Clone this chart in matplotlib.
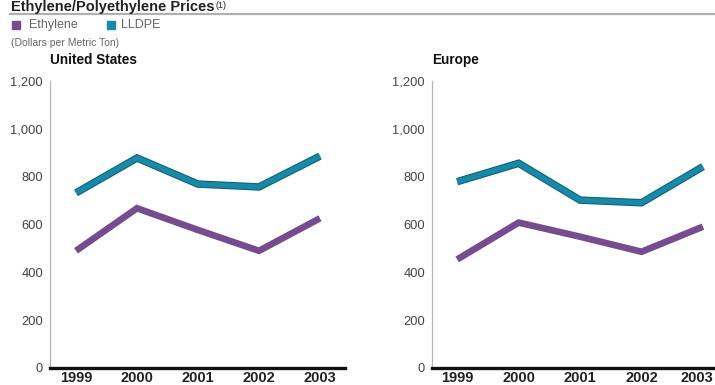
import matplotlib
matplotlib.use("Agg")
import matplotlib.pyplot as plt
from matplotlib.patches import Rectangle
from matplotlib.lines import Line2D

plt.rcParams['font.family'] = ['Liberation Sans', 'DejaVu Sans']

years = [1999, 2000, 2001, 2002, 2003]
year_labels = ["1999", "2000", "2001", "2002", "2003"]
us_ethylene = [490, 668, 577, 490, 626]
us_lldpe = [732, 878, 769, 757, 886]
eu_ethylene = [454, 608, 549, 486, 591]
eu_lldpe = [779, 856, 702, 691, 842]
yticks = [0, 200, 400, 600, 800, 1000, 1200]
ytick_labels = ["0", "200", "400", "600", "800", "1,000", "1,200"]

W, H = 715, 385
C_ETH = "#774b90"
C_LLD = "#1889a6"
C_LLD_EDGE = "#0f6479"

fig = plt.figure(figsize=(W / 100, H / 100), dpi=100)


def fx(px):
    return px / W


def fy(py):
    return 1 - py / H


def panel(left_px, right_px, xlim, name, eth, lld, keep_last_label=True):
    ax = fig.add_axes([fx(left_px), fy(368), fx(right_px - left_px), (368 - 81) / H])
    ax.set_xlim(*xlim)
    ax.set_ylim(0, 1200)
    ax.plot(years, lld, color=C_LLD_EDGE, lw=5.4, solid_joinstyle='miter', solid_capstyle='butt', zorder=3)
    ax.plot(years, lld, color=C_LLD, lw=3.8, solid_joinstyle='miter', solid_capstyle='butt', zorder=4)
    ax.plot(years, eth, color=C_ETH, lw=4.8, solid_joinstyle='miter', solid_capstyle='butt', zorder=3)
    for s in ("top", "right"):
        ax.spines[s].set_visible(False)
    ax.spines["left"].set_color("#b5b5b5")
    ax.spines["left"].set_linewidth(0.9)
    ax.spines["bottom"].set_color("#111111")
    ax.spines["bottom"].set_linewidth(2.4)
    ax.spines["bottom"].set_zorder(5)
    ax.set_yticks(yticks)
    ax.set_yticklabels(ytick_labels, fontsize=9.3, color="#444444")
    ax.set_xticks(years)
    labels = list(year_labels)
    if not keep_last_label:
        labels[-1] = ""
    ax.set_xticklabels(labels, fontsize=10.5, fontweight="bold", color="#222222")
    ax.tick_params(axis="both", length=0)
    ax.tick_params(axis="y", pad=5)
    ax.tick_params(axis="x", pad=2.5)
    ax.patch.set_visible(False)
    fig.text(fx(left_px), fy(60), name, fontsize=9.8, fontweight="bold",
             color="#111111", va="center", ha="left")
    return ax


panel(50, 345, (1998.574, 2003.41), "United States", us_ethylene, us_lldpe)
ax_eu = panel(432, 730, (1998.59, 2003.44), "Europe", eu_ethylene, eu_lldpe, keep_last_label=False)

# last Europe year label, kept inside the right edge
fig.canvas.draw()
ref_lbl = ax_eu.get_xticklabels()[0]
lb = ref_lbl.get_window_extent()
fig.text(fx(713), lb.y1 / H, year_labels[-1], fontsize=10.5, fontweight="bold",
         color="#222222", ha="right", va="top")

# heading above the rule
title = fig.text(fx(11), fy(10.5), "Ethylene/Polyethylene Prices", fontsize=10.5, fontweight="bold",
                 color="#222222", va="baseline", ha="left")
fig.canvas.draw()
bb = title.get_window_extent()
fig.text(bb.x1 / W + fx(1), fy(8), "(1)", fontsize=6.5, color="#222222", va="baseline", ha="left")
fig.add_artist(Line2D([fx(10), fx(715)], [fy(14), fy(14)], color="#b0b0b0", lw=1.6))

# legend
fig.add_artist(Rectangle((fx(12), fy(29)), fx(8), 8 / H, color=C_ETH))
fig.text(fx(29), fy(25), "Ethylene", fontsize=9, color="#666666", va="center", ha="left")
fig.add_artist(Rectangle((fx(107), fy(29)), fx(8), 8 / H, color=C_LLD))
fig.text(fx(121), fy(25), "LLDPE", fontsize=9, color="#666666", va="center", ha="left")
fig.text(fx(11), fy(43), "(Dollars per Metric Ton)", fontsize=7.5, color="#666666",
         va="center", ha="left")

fig.savefig("out.png", dpi=100)
